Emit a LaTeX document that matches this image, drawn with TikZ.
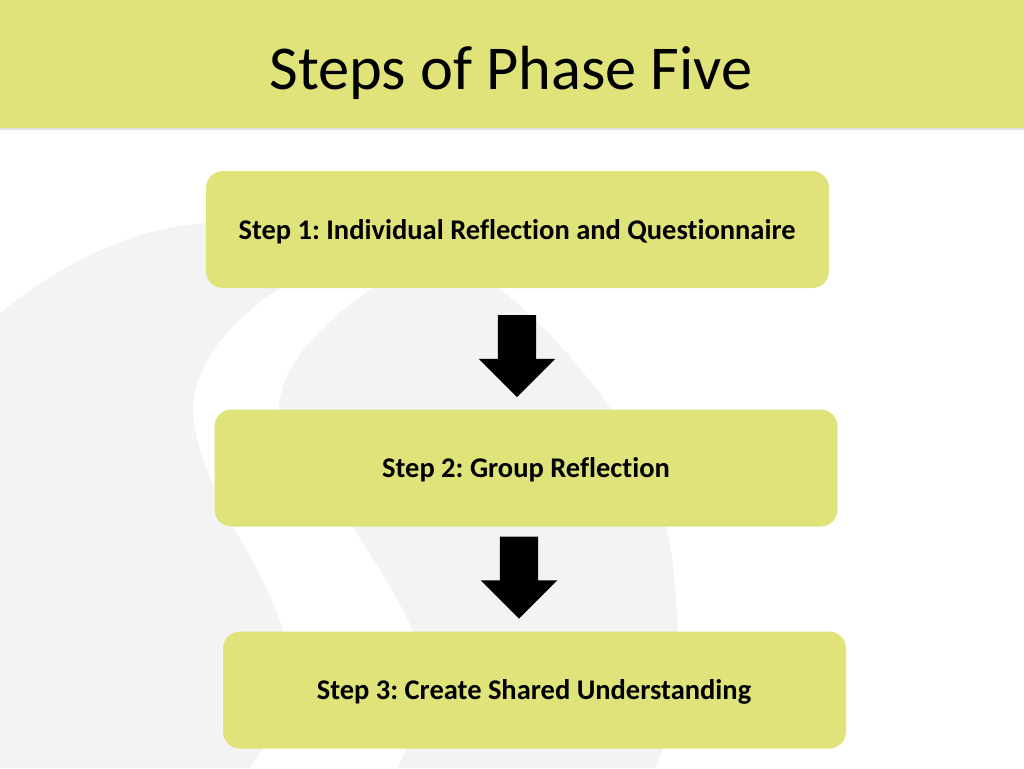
\documentclass[tikz,border=0pt]{standalone}
\usepackage{fontspec}
\setmainfont[RawFeature={-liga;-clig;-dlig}]{Carlito}
\usetikzlibrary{shapes.arrows}
\definecolor{lime}{HTML}{E0E379}
\definecolor{swirl}{HTML}{F3F3F4}
\definecolor{rule}{HTML}{E2E2E2}
\tikzset{
  stepbox/.style={fill=lime,draw=none,rounded corners=17pt,minimum width=623pt,minimum height=117pt,inner sep=0pt},
  steplabel/.style={inner sep=0pt,anchor=base,font=\fontsize{28.5}{30}\selectfont\bfseries,text=black},
  downarrow/.style={single arrow,fill=black,draw=none,shape border rotate=270,minimum width=76pt,minimum height=82pt,
    single arrow head extend=19pt,single arrow head indent=0pt,single arrow tip angle=90,inner sep=19pt},
  swirlshape/.style={fill=swirl,draw=none},
}
\begin{document}
\frenchspacing
\begin{tikzpicture}[x=1pt,y=-1pt]
\useasboundingbox (0,0) rectangle (1024,768);
\fill[white] (0,0) rectangle (1024,768);
% watermark swirl
\fill[swirlshape] (0,313) .. controls (60,265) and (130,228) .. (206,223)
  -- (300,240) -- (280,288)
  .. controls (230,320) and (193,365) .. (193,412)
  .. controls (193,440) and (215,495) .. (233,527)
  .. controls (250,555) and (270,590) .. (283,631)
  .. controls (295,680) and (280,715) .. (263,748)
  -- (250,768) -- (0,768) -- cycle;
\fill[swirlshape] (373,288) .. controls (325,320) and (279,365) .. (279,410)
  .. controls (290,440) and (330,495) .. (353,527)
  .. controls (370,555) and (395,590) .. (413,631)
  .. controls (425,670) and (420,710) .. (407,748)
  -- (398,768) -- (656,768) -- (663,748)
  .. controls (675,700) and (680,640) .. (677,617)
  .. controls (675,580) and (672,550) .. (666,527)
  .. controls (650,480) and (630,435) .. (610,408)
  .. controls (580,365) and (540,320) .. (497,287)
  -- (440,250) -- cycle;
% header
\fill[lime] (0,0) rectangle (1024,128);
\fill[rule] (0,128) rectangle (1024,130);
\node[inner sep=0pt,anchor=base,font=\fontsize{62.4}{70}\selectfont,text=black] (title) at (511,89.5) {Steps of Phase Five};
% steps
\node[stepbox] (s1) at (517.5,229.5) {};
\node[stepbox] (s2) at (526,468) {};
\node[stepbox] (s3) at (534.5,690) {};
\node[steplabel] (t1) at (517,239) {Step 1: Individual Reflection and Questionnaire};
\node[steplabel] (t2) at (526,477) {Step 2: Group Reflection};
\node[steplabel] (t3) at (534,699) {Step 3: Create Shared Understanding};
\node[downarrow] (a1) at (517,346.5) {};
\node[downarrow] (a2) at (519,568) {};
\end{tikzpicture}
\end{document}
